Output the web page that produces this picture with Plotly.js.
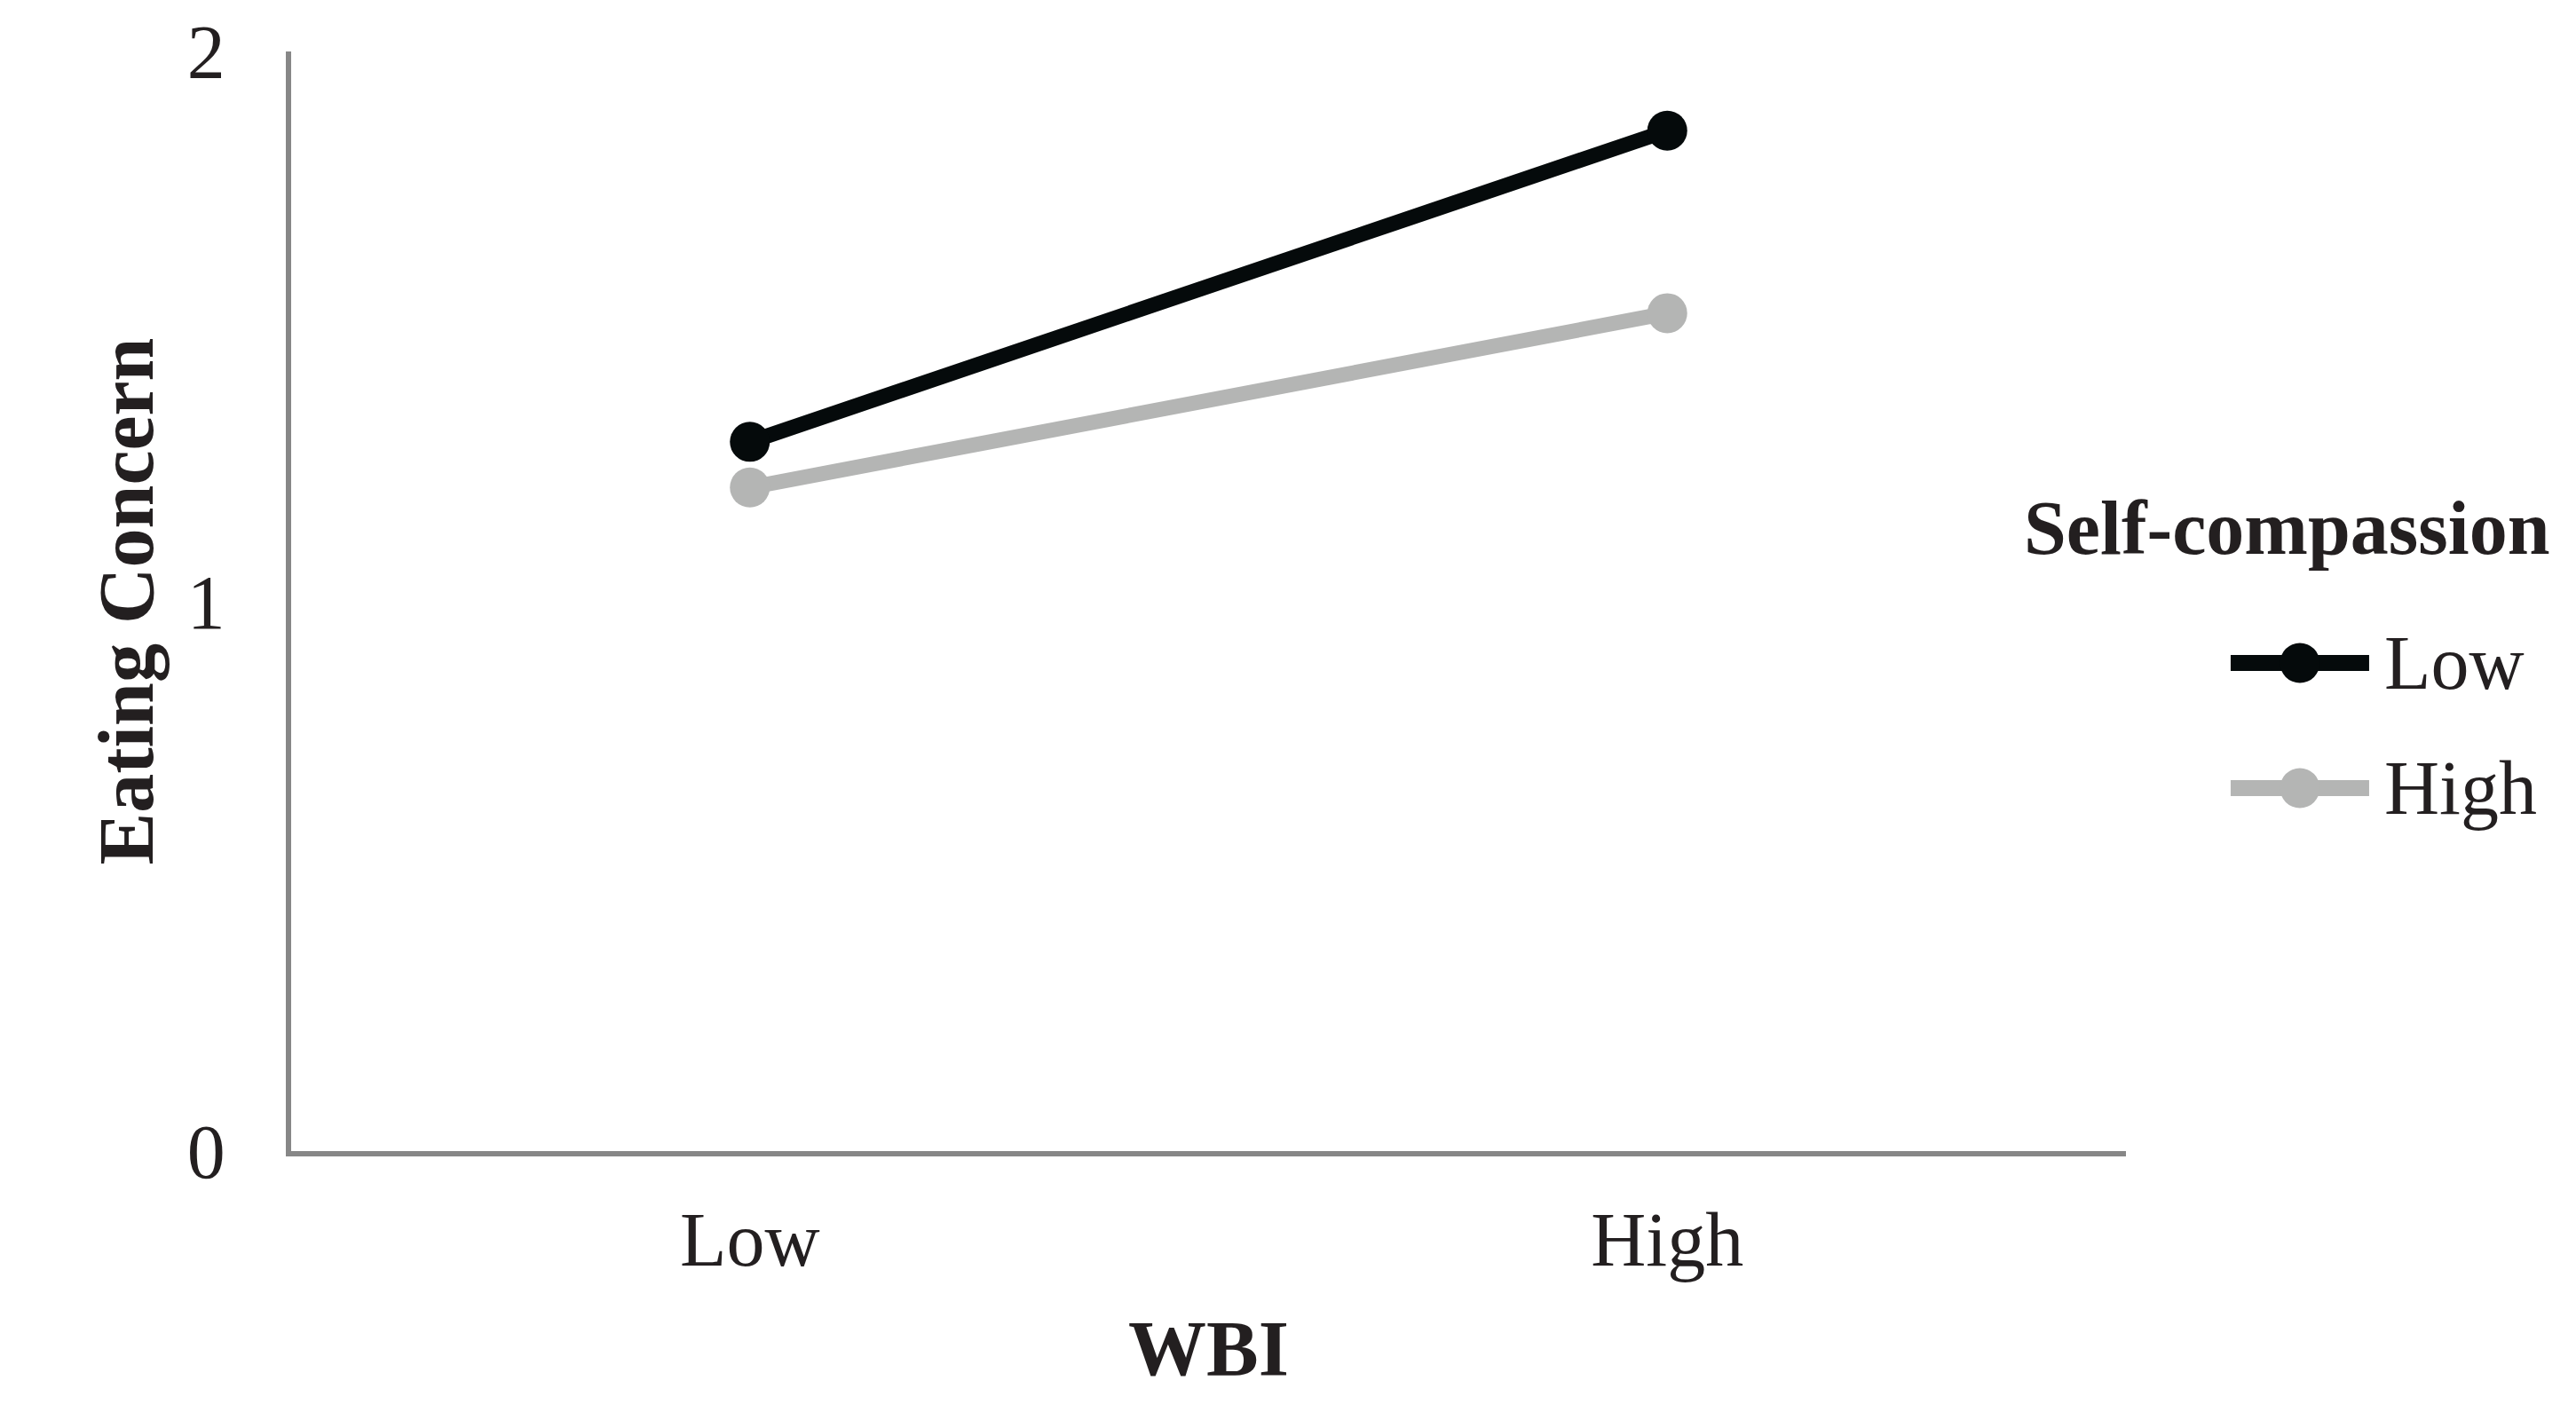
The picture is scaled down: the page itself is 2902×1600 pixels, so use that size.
<!DOCTYPE html>
<html>
<head>
<meta charset="utf-8">
<script src="https://cdn.plot.ly/plotly-3.0.1.min.js"></script>
<style>
  html, body { margin: 0; padding: 0; background: #fff; }
  #chart { width: 2902px; height: 1600px; }
</style>
</head>
<body>
<div id="chart"></div>
<script>
// categorie asse X (WBI)
const wbiLevels = ['Low', 'High'];
// valori Eating Concern per livello di Self-compassion
const lowCompassion = [1.29, 1.856];
const highCompassion = [1.207, 1.524];
const seriesNames = ['Low', 'High'];
const seriesColors = ['#050a0b', '#b4b5b4'];
const yTicks = [0, 1, 2];

const serif = 'Liberation Serif, Times New Roman, serif';
const textColor = '#231f20';

const traces = [lowCompassion, highCompassion].map((vals, i) => ({
    x: wbiLevels,
    y: vals,
    name: seriesNames[i],
    type: 'scatter',
    mode: 'lines+markers',
    line: { color: seriesColors[i], width: 17 },
    marker: { color: seriesColors[i], size: 45 },
    showlegend: false
}));

// legenda disegnata a mano (il simbolo nativo e' troppo piccolo)
const legendX = 1.0948;      // centro del simbolo, coordinate paper
const legendY = [0.4439, 0.3301];
const shapes = [];
const annotations = [];
seriesNames.forEach((name, i) => {
    shapes.push({
        type: 'line', xref: 'paper', yref: 'paper',
        xsizemode: 'pixel', xanchor: legendX,
        x0: -78, x1: 78, y0: legendY[i], y1: legendY[i],
        line: { color: seriesColors[i], width: 18 }
    });
    shapes.push({
        type: 'circle', xref: 'paper', yref: 'paper',
        xsizemode: 'pixel', ysizemode: 'pixel',
        xanchor: legendX, yanchor: legendY[i],
        x0: -22.5, x1: 22.5, y0: -22.5, y1: 22.5,
        fillcolor: seriesColors[i], line: { width: 0 }
    });
    annotations.push({
        text: name, xref: 'paper', yref: 'paper',
        x: 1.1398, y: legendY[i], xanchor: 'left', yanchor: 'middle',
        showarrow: false,
        font: { family: serif, size: 86, color: textColor }
    });
});
annotations.push({
    text: '<b>Self-compassion</b>', xref: 'paper', yref: 'paper',
    x: 0.9434, y: 0.526, xanchor: 'left', yanchor: 'bottom',
    showarrow: false,
    font: { family: serif, size: 86, color: textColor }
});

const layout = {
    width: 2902,
    height: 1600,
    paper_bgcolor: '#ffffff',
    plot_bgcolor: '#ffffff',
    margin: { l: 328, r: 507, t: 58, b: 303 },
    font: { family: serif, color: textColor, size: 86 },
    showlegend: false,
    shapes: shapes,
    annotations: annotations,
    xaxis: {
        type: 'category',
        range: [-0.5, 1.5],
        showgrid: false,
        zeroline: false,
        showline: true,
        linecolor: '#878787',
        linewidth: 6,
        ticks: '',
        ticklabelstandoff: 20,
        tickfont: { family: serif, size: 86, color: textColor },
        title: { text: '<b>WBI</b>', standoff: 45, font: { family: serif, size: 88, color: textColor } },
        automargin: false,
        fixedrange: true
    },
    yaxis: {
        range: [0, 2],
        tickvals: yTicks,
        ticktext: yTicks.map(String),
        showgrid: false,
        zeroline: false,
        showline: true,
        linecolor: '#878787',
        linewidth: 6,
        ticks: '',
        ticklabelstandoff: 51,
        tickfont: { family: serif, size: 86, color: textColor },
        title: { text: '<b>Eating Concern</b>', standoff: 11, font: { family: serif, size: 88, color: textColor } },
        automargin: false,
        fixedrange: true
    }
};

Plotly.newPlot('chart', traces, layout, { displayModeBar: false, staticPlot: true });
</script>
</body>
</html>
